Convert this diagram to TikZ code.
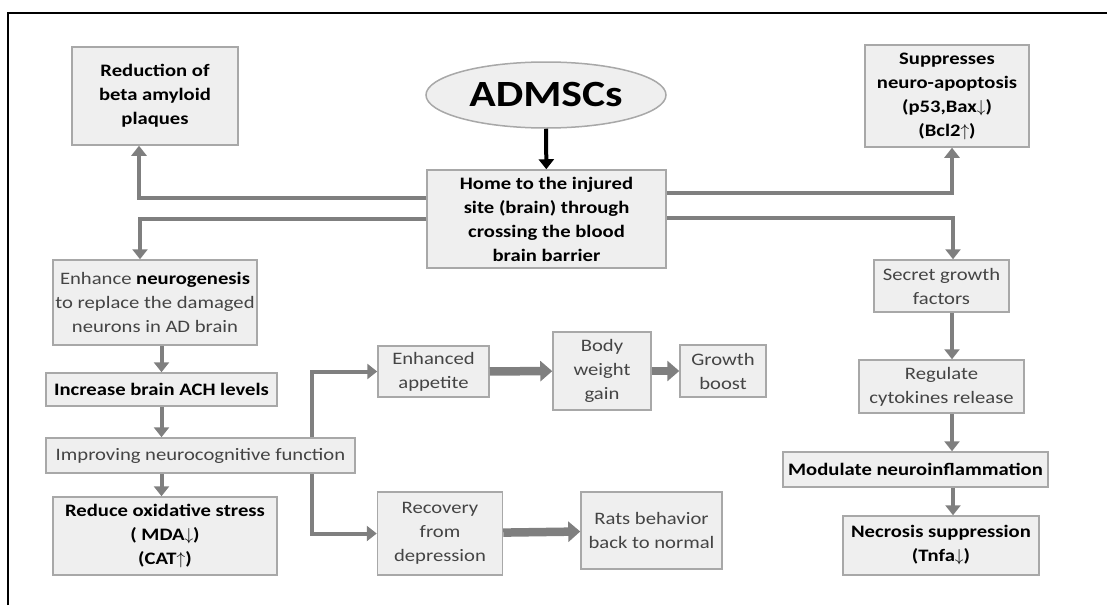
\documentclass[tikz,border=0pt]{standalone}
\usepackage{fontspec}
\setmainfont[FakeStretch=1.18]{Carlito}
\usetikzlibrary{arrows.meta,positioning,shapes.geometric}
\definecolor{boxfill}{HTML}{EFEFEF}
\definecolor{boxline}{HTML}{A8A8A8}
\definecolor{flowgray}{HTML}{7F7F7F}
\definecolor{txtgray}{HTML}{444444}

\begin{document}
\begin{tikzpicture}[
			x=1pt, y=-1pt,
			font=\fontsize{17.5}{24}\selectfont,
			block/.style={
				rectangle,
				draw=boxline,
				line width=1.5pt,
				fill=boxfill,
				text=txtgray,
				align=center,
				inner sep=0pt
			},
			bblock/.style={
				block,
				text=black,
				font=\fontsize{17.5}{24}\selectfont\bfseries
			},
			flow/.style={
				draw=flowgray,
				line width=4pt,
				-{Triangle[length=10pt,width=15pt]}
			},
			thickflow/.style={
				flow,
				line width=8.5pt,
				-{Triangle[length=12pt,width=20pt]}
			}
			]
			% frame
			\useasboundingbox (0,0) rectangle (1107,605);
			\draw [line width=2pt] (8,605) -- (8,13) -- (1107,13);
			
			% We start by placing the blocks
			\node [ellipse, draw=boxline, line width=1.5pt, fill=boxfill,
				minimum width=240pt, minimum height=66pt, inner sep=0pt,
				font=\fontsize{37}{40}\selectfont\bfseries] (admscs) at (546,95) {ADMSCs};
			
			\node [bblock, minimum width=239pt, minimum height=98pt] (home) at (546.5,219)
			{Home to the injured\\site (brain) through\\crossing the blood\\brain barrier};
			
			\node [bblock, minimum width=166pt, minimum height=98pt] (reduc) at (155,96)
			{Reduction of\\beta amyloid\\plaques};
			
			\node [bblock, minimum width=164pt, minimum height=102pt] (suppr) at (947,96)
			{Suppresses\\neuro-apoptosis\\(p53,Bax$\downarrow$)\\(Bcl2$\uparrow$)};
			
			\node [block, minimum width=204pt, minimum height=85pt] (enhance) at (155,302.5)
			{Enhance \textbf{\color{black}neurogenesis}\\to replace the damaged\\neurons in AD brain};
			
			\node [bblock, minimum width=231pt, minimum height=33pt] (increase) at (161.5,389.5)
			{Increase brain ACH levels};
			
			\node [block, minimum width=309pt, minimum height=35pt] (improv) at (200.5,455.5)
			{Improving neurocognitive function};
			
			\node [bblock, minimum width=224pt, minimum height=78pt] (reduce) at (165,536)
			{Reduce oxidative stress\\( MDA$\downarrow$)\\(CAT$\uparrow$)};
			
			\node [block, minimum width=111pt, minimum height=51pt] (appetite) at (433.5,371.5)
			{Enhanced\\appetite};
			
			\node [block, minimum width=98pt, minimum height=78pt] (body) at (602,371)
			{Body\\weight\\gain};
			
			\node [block, minimum width=86pt, minimum height=52pt] (growth) at (723,371)
			{Growth\\boost};
			
			\node [block, minimum width=125pt, minimum height=83pt] (recovery) at (440,533.5)
			{Recovery\\from\\depression};
			
			\node [block, minimum width=141pt, minimum height=77pt] (rats) at (651.5,530.5)
			{Rats behavior\\back to normal};
			
			\node [block, minimum width=135pt, minimum height=52pt] (secret) at (941.5,286)
			{Secret growth\\factors};
			
			\node [block, minimum width=165pt, minimum height=53pt] (regulate) at (941.5,386.5)
			{Regulate\\cytokines release};
			
			\node [bblock, minimum width=265pt, minimum height=35pt] (modulate) at (915.5,469.5)
			{Modulate neuroinflammation};
			
			\node [bblock, minimum width=196pt, minimum height=59pt] (necrosis) at (941,545.5)
			{Necrosis suppression\\(Tnfa$\downarrow$)};
			
			% connectors
			\draw [line width=4pt, -{Triangle[length=10pt,width=15pt]}] (admscs) -- (home);
			\draw [flow] ([yshift=21pt]home.west) -| ([xshift=-16pt]reduc.south);
			\draw [flow] (home.west) -| ([xshift=-15pt]enhance.north);
			\draw [flow] ([yshift=26pt]home.east) -| ([xshift=5pt]suppr.south);
			\draw [flow] ([yshift=1pt]home.east) -| ([xshift=11.5pt]secret.north);
			
			\draw [flow] (enhance.south -| increase.north) -- (increase.north);
			\draw [flow] (increase.south) -- (increase.south |- improv.north);
			\draw [flow] (improv.south -| increase.south) -- (increase.south |- reduce.north);
			
			\draw [flow] ([xshift=111.5pt]improv.north) |- (appetite.west);
			\draw [flow] ([xshift=111.5pt]improv.south) |- (recovery.west);
			\draw [thickflow] (appetite) -- (body);
			\draw [thickflow] (body) -- (growth);
			\draw [thickflow] (recovery) -- (rats);
			
			\draw [flow] ([xshift=10.5pt]secret.south) -- ([xshift=10.5pt]regulate.north);
			\draw [flow] ([xshift=10.5pt]regulate.south) -- ([xshift=36.5pt]modulate.north);
			\draw [flow] ([xshift=37.5pt]modulate.south) -- ([xshift=12pt]necrosis.north);
			
			\end{tikzpicture}
\end{document}
